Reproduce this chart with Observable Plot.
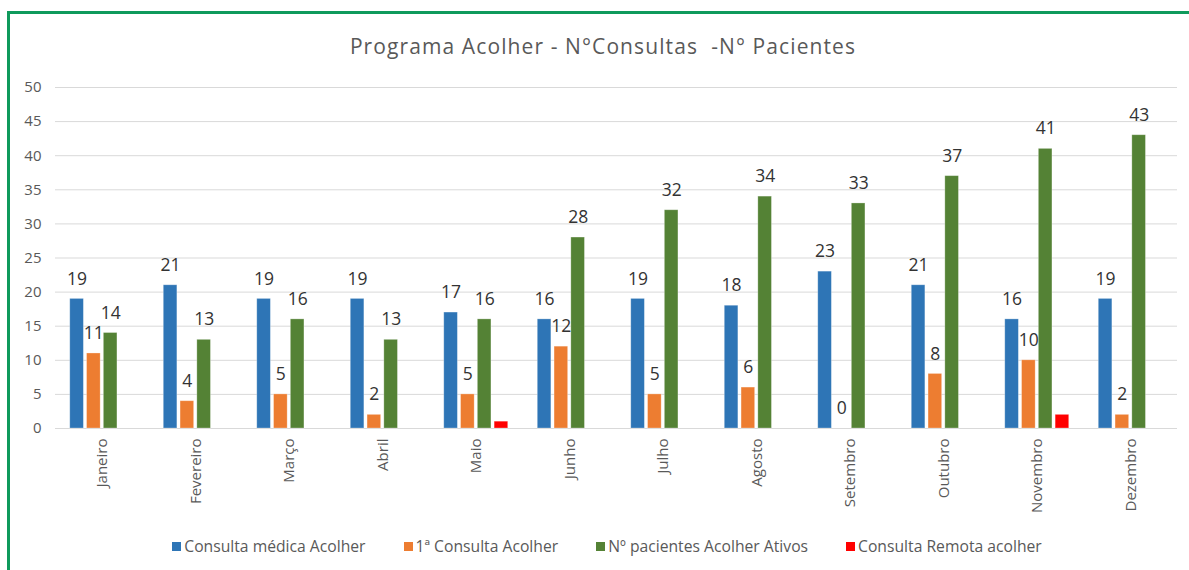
<!DOCTYPE html>
<html>
<head>
<meta charset="utf-8">
<script src="https://cdn.jsdelivr.net/npm/d3@7"></script>
<script src="https://cdn.jsdelivr.net/npm/@observablehq/plot@0.6"></script>
<style>
  html, body { margin: 0; padding: 0; background: #fff; width: 1189px; height: 570px; overflow: hidden; }
  #frame { position: absolute; left: 7px; top: 11px; width: 1300px; height: 700px;
           border-left: 3px solid #0f9a5c; border-top: 3px solid #0f9a5c; box-sizing: border-box; }
  #title { position: absolute; left: 0; width: 1206px; top: 31px; text-align: center;
           font-family: "Open Sans", sans-serif; font-size: 21px; letter-spacing: 1.1px; color: #595959; white-space: pre; line-height: 30px; }
  #grid, #chart { position: absolute; left: 0; top: 70px; }
  #legend { position: absolute; left: 0; width: 1214px; top: 535px; display: flex; justify-content: center; gap: 38px;
            font-family: "Open Sans", sans-serif; font-size: 15.7px; color: #595959; line-height: 22px; }
  .item { display: flex; align-items: center; gap: 3px; }
  .sw { width: 9px; height: 9px; display: inline-block; }
</style>
</head>
<body>
<div id="frame"></div>
<div id="title">Programa Acolher - N°Consultas  -N° Pacientes</div>
<div id="grid"></div>
<div id="chart"></div>
<div id="legend"></div>
<script>
const months = ["Janeiro","Fevereiro","Março","Abril","Maio","Junho","Julho","Agosto","Setembro","Outubro","Novembro","Dezembro"];
const seriesNames = ["Consulta médica Acolher","1ª Consulta Acolher","Nº pacientes Acolher Ativos","Consulta Remota acolher"];
const seriesColors = ["#2e75b6","#ed7d31","#548235","#ff0000"];
const consultaMedica = [19,21,19,19,17,16,19,18,23,21,16,19];
const primeiraConsulta = [11,4,5,2,5,12,5,6,0,8,10,2];
const pacientesAtivos = [14,13,16,13,16,28,32,34,33,37,41,43];
const consultaRemota = [0,0,0,0,1,0,0,0,0,0,2,0];
const labeled = [true,true,true,false];
const yTicks = [0,5,10,15,20,25,30,35,40,45,50];

const allSeries = [consultaMedica, primeiraConsulta, pacientesAtivos, consultaRemota];
const data = [];
months.forEach((m, i) => {
  allSeries.forEach((arr, s) => {
    data.push({month: m, series: seriesNames[s], value: arr[i], label: labeled[s]});
  });
});

const common = {
  width: 1189,
  height: 460,
  marginLeft: 55,
  marginRight: 12,
  marginTop: 17,
  marginBottom: 102,
  style: {fontFamily: "'Open Sans', sans-serif", background: "transparent"},
};

// background: continuous grid and y axis
const grid = Plot.plot({
  ...common,
  y: {domain: [0, 50], ticks: yTicks, label: null},
  marks: [
    Plot.gridY(yTicks, {stroke: "#d9d9d9", strokeOpacity: 1, strokeWidth: 1}),
    Plot.axisY(yTicks, {tickSize: 0, tickPadding: 14, fontSize: 15, fill: "#595959", label: null})
  ]
});
document.getElementById("grid").appendChild(grid);

const chart = Plot.plot({
  ...common,
  fx: {domain: months, paddingInner: 0.316, paddingOuter: 0.158, round: false, label: null},
  x: {domain: seriesNames, paddingInner: 0.19, paddingOuter: 0, round: false, axis: null},
  y: {domain: [0, 50], axis: null},
  color: {domain: seriesNames, range: seriesColors},
  marks: [
    Plot.axisFx({anchor: "bottom", tickRotate: -90, tickSize: 0, tickPadding: 10, fontSize: 15, fill: "#595959", label: null}),
    Plot.barY(data, {fx: "month", x: "series", y: "value", fill: "series", stroke: "#ffffff", strokeOpacity: 0.35, strokeWidth: 0.8}),
    Plot.text(data.filter(d => d.label), {fx: "month", x: "series", y: "value", text: d => String(d.value),
      dy: -20, fontSize: 17.5, fill: "#333333", lineAnchor: "middle"})
  ]
});
document.getElementById("chart").appendChild(chart);

const legend = document.getElementById("legend");
seriesNames.forEach((name, i) => {
  const item = document.createElement("div");
  item.className = "item";
  const sw = document.createElement("span");
  sw.className = "sw";
  sw.style.background = seriesColors[i];
  const t = document.createElement("span");
  t.textContent = name;
  item.appendChild(sw);
  item.appendChild(t);
  legend.appendChild(item);
});
</script>
</body>
</html>
